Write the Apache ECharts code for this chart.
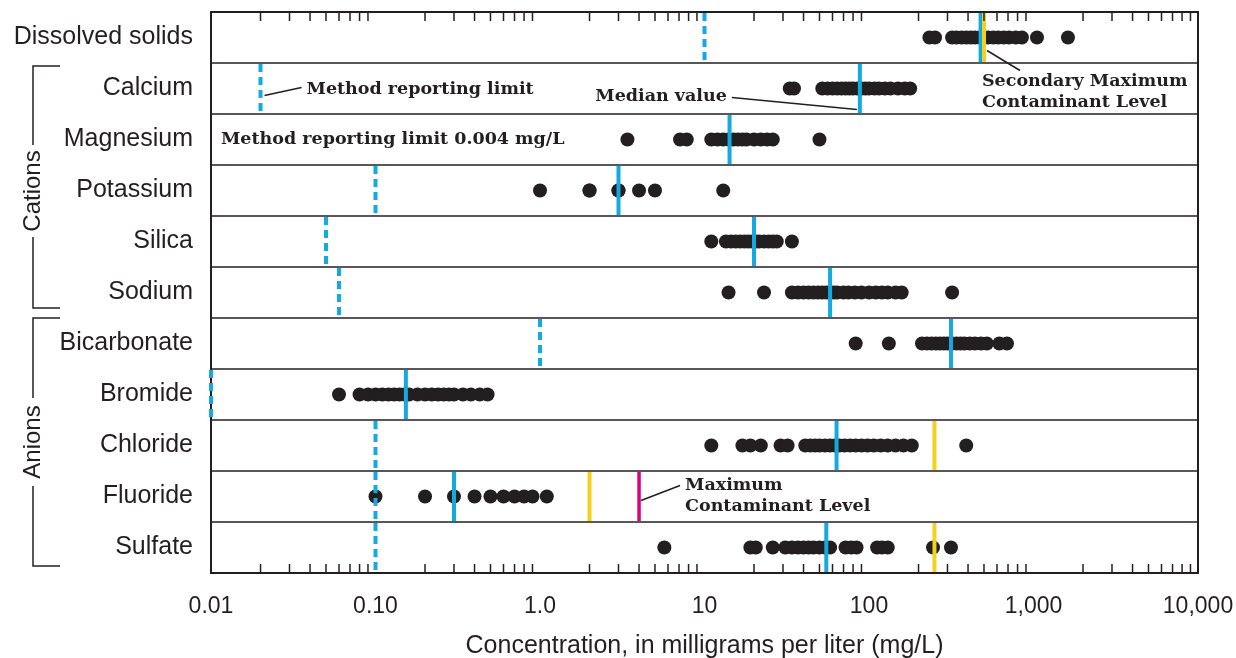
<!DOCTYPE html>
<html>
<head>
<meta charset="utf-8">
<title>Concentration ranges</title>
<script src="https://cdn.jsdelivr.net/npm/echarts@6/dist/echarts.min.js"></script>
<style>
html, body { margin: 0; padding: 0; background: #fff; }
#main { width: 1236px; height: 658px; }
</style>
</head>
<body>
<div id="main"></div>
<script>
var rows = ['Dissolved solids', 'Calcium', 'Magnesium', 'Potassium', 'Silica', 'Sodium',
	'Bicarbonate', 'Bromide', 'Chloride', 'Fluoride', 'Sulfate'];
var tickLabels = ['0.01', '0.10', '1.0', '10', '100', '1,000', '10,000'];
var minorSteps = [2, 3, 4, 5, 6, 7, 8, 9];

// sample concentrations, mg/L
var dissolvedSolids = [233, 252, 320, 340, 365, 390, 415, 440, 470, 500, 530, 570, 610, 660, 710, 780, 850, 1050, 1620];
var calcium = [33, 35, 52, 56, 60, 64, 68, 72, 76, 80, 85, 90, 95, 100, 108, 115, 125, 135, 150, 165, 178];
var magnesium = [3.4, 7.1, 7.8, 11, 12, 13, 14, 15, 16, 17, 18, 20, 22, 24, 26, 50];
var potassium = [1, 2, 2, 3, 3, 4, 5, 13];
var silica = [11, 13.5, 14.5, 15.5, 16.5, 17.5, 18.5, 19.5, 20.5, 21.5, 23, 24.5, 26, 27.5, 34];
var sodium = [14, 23, 34, 37, 40, 43, 46, 49, 52, 55, 58, 61, 64, 70, 75, 82, 90, 100, 110, 120, 130, 145, 158, 320];
var bicarbonate = [83, 132, 210, 225, 240, 255, 270, 285, 300, 320, 340, 360, 380, 410, 440, 480, 520, 620, 690];
var bromide = [0.06, 0.08, 0.09, 0.10, 0.11, 0.12, 0.13, 0.14, 0.15, 0.16, 0.18, 0.20, 0.22, 0.24, 0.26, 0.28, 0.30, 0.34, 0.38, 0.43, 0.48];
var chloride = [11, 17, 19, 22, 29, 32, 41, 44, 47, 50, 54, 58, 62, 66, 71, 77, 83, 90, 98, 107, 118, 130, 145, 162, 182, 390];
var fluoride = [0.1, 0.2, 0.3, 0.4, 0.5, 0.6, 0.7, 0.8, 0.9, 1.1];
var sulfate = [5.7, 19, 20.5, 26, 31, 34, 37, 40, 43, 46, 50, 54, 58, 72, 78, 84, 112, 120, 130, 245, 315];
var samples = [dissolvedSolids, calcium, magnesium, potassium, silica, sodium,
	bicarbonate, bromide, chloride, fluoride, sulfate];

var medians = [477, 88, 14.2, 3, 20, 58, 315, 0.153, 63.5, 0.3, 55];
var reportingLimits = [10, 0.02, null, 0.1, 0.05, 0.06, 1, 0.01, 0.1, 0.1, 0.1];
var secondaryMcl = [500, null, null, null, null, null, null, null, 250, 2, 250];
var mcl = [null, null, null, null, null, null, null, null, null, 4, null];

var INK = '#231f20';
var SANS = 'Liberation Sans';
var SERIF = 'DejaVu Serif';
// kind: 0 reporting limit, 1 median, 2 secondary MCL, 3 MCL
var lineStyles = [
	{color: '#14a9e1', width: 4, dash: [8, 5]},
	{color: '#14a9e1', width: 4, dash: null},
	{color: '#f3d11d', width: 4, dash: null},
	{color: '#e2007a', width: 3.5, dash: null}
];

var dots = [];
for(var i = 0; i < samples.length; i++) {
	for(var j = 0; j < samples[i].length; j++) {
		dots.push([samples[i][j], i]);
	}
}
var refLines = [];
function addLines(arr, kind) {
	for(var r = 0; r < arr.length; r++) {
		if(arr[r] != null) refLines.push([arr[r], r, kind]);
	}
}
addLines(reportingLimits, 0);
addLines(medians, 1);
addLines(secondaryMcl, 2);
addLines(mcl, 3);

var minorTicks = [];
for(var e = -2; e < 4; e++) {
	for(var m = 0; m < minorSteps.length; m++) {
		minorTicks.push([minorSteps[m] * Math.pow(10, e), 0]);
	}
}

function labelFor(v) {
	return tickLabels[Math.round(Math.log10(v)) + 2] || '';
}

var chart = echarts.init(document.getElementById('main'));
var option = {
	animation: false,
	grid: {left: 211, right: 38, top: 12, bottom: 85, containLabel: false, outerBoundsMode: 'none',
		show: true, borderColor: INK, borderWidth: 2, backgroundColor: 'transparent'},
	xAxis: [{
		type: 'log', logBase: 10, min: 0.01, max: 10000, position: 'bottom',
		axisLine: {lineStyle: {color: INK, width: 2}},
		axisTick: {inside: true, length: 13, lineStyle: {color: INK, width: 1.5}},
		axisLabel: {formatter: labelFor, color: INK, fontFamily: SANS, fontSize: 23, margin: 22},
		splitLine: {show: false},
		name: 'Concentration, in milligrams per liter (mg/L)',
		nameLocation: 'middle', nameGap: 61,
		nameTextStyle: {color: INK, fontFamily: SANS, fontSize: 25}
	}, {
		type: 'log', logBase: 10, min: 0.01, max: 10000, position: 'top',
		axisLine: {lineStyle: {color: INK, width: 2}},
		axisTick: {inside: true, length: 13, lineStyle: {color: INK, width: 1.5}},
		axisLabel: {show: false},
		splitLine: {show: false}
	}],
	yAxis: {
		type: 'category', data: rows, inverse: true,
		axisLine: {lineStyle: {color: INK, width: 2}},
		axisTick: {show: false},
		axisLabel: {color: INK, fontFamily: SANS, fontSize: 25, margin: 18},
		splitLine: {show: true, lineStyle: {color: INK, width: 1.5}}
	},
	series: [{
		type: 'scatter', silent: true, z: 2,
		symbol: 'circle', symbolSize: 14,
		itemStyle: {color: INK, opacity: 1},
		data: dots
	}, {
		type: 'custom', silent: true, z: 3,
		encode: {x: 0, y: 1},
		renderItem: function(params, api) {
			var s = lineStyles[api.value(2)];
			var p = api.coord([api.value(0), api.value(1)]);
			var h = api.size([0, 1], [api.value(0), api.value(1)])[1];
			return {
				type: 'line',
				shape: {x1: p[0], y1: p[1] - h / 2 + 1, x2: p[0], y2: p[1] + h / 2 - 1},
				style: {stroke: s.color, lineWidth: s.width, lineDash: s.dash}
			};
		},
		data: refLines
	}, {
		type: 'custom', silent: true, z: 4,
		encode: {x: 0, y: 1},
		renderItem: function(params, api) {
			var cs = params.coordSys;
			var x = api.coord([api.value(0), 0])[0];
			var st = {stroke: INK, lineWidth: 1.5};
			return {
				type: 'group',
				children: [
					{type: 'line', shape: {x1: x, y1: cs.y, x2: x, y2: cs.y + 9}, style: st},
					{type: 'line', shape: {x1: x, y1: cs.y + cs.height - 9, x2: x, y2: cs.y + cs.height}, style: st}
				]
			};
		},
		data: minorTicks
	}]
};
chart.setOption(option);

// annotations, anchored on data positions
function px(v, r) {
	return chart.convertToPixel({gridIndex: 0}, [v, r]);
}
var band = (658 - 12 - 85) / rows.length;
var noteFont = 'bold 17.5px "' + SERIF + '"';
var g = [];
function note(text, x, y, align) {
	g.push({type: 'text', x: x, y: y, silent: true, z: 10,
		style: {text: text, font: noteFont, fill: INK, align: align || 'left', verticalAlign: 'middle'}});
}
function leader(x1, y1, x2, y2) {
	g.push({type: 'line', silent: true, z: 10, shape: {x1: x1, y1: y1, x2: x2, y2: y2},
		style: {stroke: INK, lineWidth: 1.5}});
}
var a = px(reportingLimits[1], 1);
leader(a[0] + 4, a[1] + 7, a[0] + 41, a[1] - 1);
note('Method reporting limit', a[0] + 46, a[1] + 1);
a = px(medians[1], 1);
leader(a[0] - 3, a[1] + 21, a[0] - 128, a[1] + 9);
note('Median value', a[0] - 133, a[1] + 8, 'right');
a = px(secondaryMcl[0], 0);
leader(a[0] + 3, a[1] + 13, a[0] + 36, a[1] + 33);
note('Secondary Maximum', a[0] - 2, a[1] + 44);
note('Contaminant Level', a[0] - 2, a[1] + 65);
a = px(mcl[9], 9);
leader(a[0] + 2, a[1] + 4, a[0] + 41, a[1] - 11);
note('Maximum', a[0] + 46, a[1] - 11);
note('Contaminant Level', a[0] + 46, a[1] + 10);
a = px(0.01, 2);
note('Method reporting limit 0.004 mg/L', a[0] + 10, a[1]);

// group brackets
function bracket(label, r0, r1, topPad, botPad, half, shift) {
	var top = px(1, r0)[1] - band / 2 + topPad;
	var bot = px(1, r1)[1] + band / 2 - botPad;
	var mid = (top + bot) / 2 + shift;
	var st = {stroke: INK, lineWidth: 1.5};
	g.push({type: 'polyline', silent: true, shape: {points: [[60, top], [33, top], [33, mid - half]]}, style: st});
	g.push({type: 'polyline', silent: true, shape: {points: [[33, mid + half], [33, bot], [60, bot]]}, style: st});
	g.push({type: 'text', x: 33, y: mid, rotation: Math.PI / 2, silent: true,
		style: {text: label, font: '24px "' + SANS + '"', fill: INK, align: 'center', verticalAlign: 'middle'}});
}
bracket('Cations', 1, 5, 3, 10, 46, 4);
bracket('Anions', 6, 10, 0, 7, 44, 0);

chart.setOption({graphic: g});
</script>
</body>
</html>
